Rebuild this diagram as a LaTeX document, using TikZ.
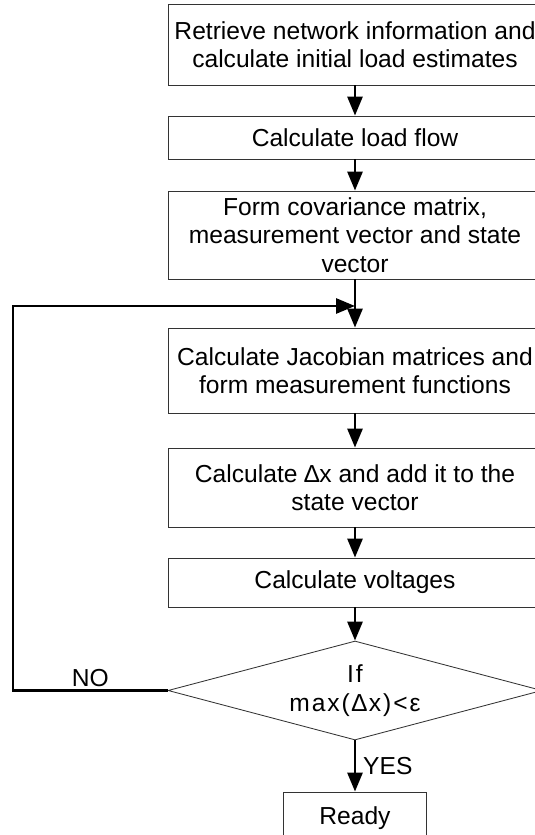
\documentclass[tikz,border=0pt]{standalone}
\usepackage{fontspec}
\setmainfont{Liberation Sans}
\usetikzlibrary{arrows.meta,shapes.geometric}

\begin{document}
\begin{tikzpicture}[
  >={Triangle[length=0.475cm, width=0.375cm]},
  every node/.style={font=\fontsize{17.5}{20.3}\selectfont},
  box/.style={rectangle, draw=black!80, line width=0.6pt, minimum width=9.35cm, inner sep=2pt, align=center},
  decision/.style={diamond, draw=black!80, line width=0.6pt, aspect=3.78, minimum width=9.35cm, minimum height=2.475cm, inner sep=1pt, align=center},
  edge/.style={->, line width=2pt},
  lab/.style={inner sep=2pt}
]
\useasboundingbox (0,0) rectangle (13.35,-20.875);

% --- nodes (absolute placement for fidelity) ---
\node[box, minimum height=2.025cm] (retr) at (8.875,-1.1125) {Retrieve network information and\\calculate initial load estimates};
\node[box, minimum height=1.075cm] (flow) at (8.875,-3.4375) {Calculate load flow};
\node[box, minimum height=2.2cm]   (form) at (8.875,-5.875) {Form covariance matrix,\\measurement vector and state\\vector};
\node[box, minimum height=2.125cm] (jac)  at (8.875,-9.2625) {Calculate Jacobian matrices and\\form measurement functions};
\node[box, minimum height=1.975cm] (dx)   at (8.875,-12.1875) {Calculate ∆x and add it to the\\state vector};
\node[box, minimum height=1.225cm] (volt) at (8.875,-14.5625) {Calculate voltages};
\node[decision] (test) at (8.875,-17.2625) {\addfontfeatures{LetterSpace=8}If\\\addfontfeatures{LetterSpace=8}max(∆x)<ε};
\node[box, minimum width=3.575cm, minimum height=1.3cm] (ready) at (8.875,-20.45) {Ready};

% corners of the return path
\coordinate (cl)   at (0.325,-17.2625);
\coordinate (ct)   at (0.325,-7.65);
\coordinate (join) at (8.875,-7.65);

% --- edges ---
\draw[edge] (retr) -- (flow);
\draw[edge] (flow) -- (form);
\draw[edge] (form) -- (jac);
\draw[edge] (jac) -- (dx);
\draw[edge] (dx) -- (volt);
\draw[edge] (volt) -- (test);

% YES leads out, NO goes back to the Jacobian step
\draw[edge] (test) -- node[lab, right, xshift=1mm] {YES} (ready);
\draw[edge] (test.west) -- node[lab, midway, above] {NO} (cl) -- (ct) -- (join);

\end{tikzpicture}
\end{document}
